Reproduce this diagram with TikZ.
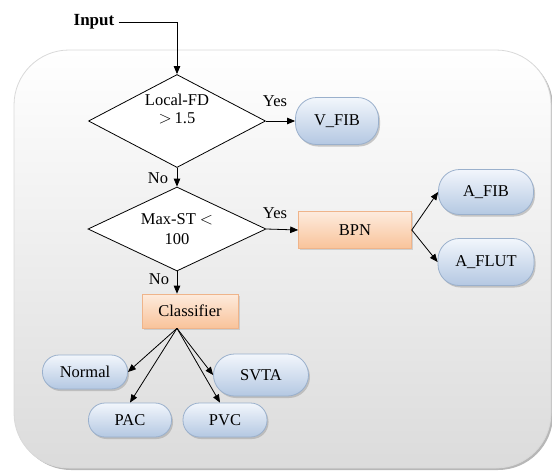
\documentclass[tikz,border=0pt]{standalone}
\usepackage{fontspec}
\setmainfont{Liberation Serif}
\usetikzlibrary{shapes.geometric,shapes.misc,arrows.meta,shadows}
\definecolor{bluetop}{HTML}{F2F6FC}
\definecolor{bluebot}{HTML}{B4C8E2}
\definecolor{blueline}{HTML}{9AB0CC}
\definecolor{orgtop}{HTML}{FDEBDD}
\definecolor{orgbot}{HTML}{F9C39A}
\definecolor{orgline}{HTML}{EFB48A}
\begin{document}
\begin{tikzpicture}[x=1pt,y=-1pt,
  every node/.style={font=\fontsize{16.5}{20}\selectfont},
  decision/.style={diamond, draw=black, line width=0.8pt, fill=white, shape aspect=2, inner sep=0pt, align=center},
  outbox/.style={rectangle, rounded corners=16.5pt, draw=blueline, line width=0.8pt, top color=bluetop, bottom color=bluebot,
    drop shadow={shadow xshift=1.5pt, shadow yshift=-2pt, fill=gray!70, opacity=0.6}},
  bigout/.style={outbox, rounded corners=21pt},
  procbox/.style={rectangle, draw=orgline, line width=0.6pt, top color=orgtop, bottom color=orgbot,
    drop shadow={shadow xshift=1.5pt, shadow yshift=-1.5pt, fill=gray!60, opacity=0.5}},
  conn/.style={line width=0.8pt, -{Triangle[length=8pt,width=6.5pt]}},
  lbl/.style={inner sep=0pt}
]
\useasboundingbox (0,0) rectangle (552,472);
% background panel
\path[draw=gray!30, line width=0.8pt, top color=white, bottom color=gray!28, rounded corners=55pt,
  drop shadow={shadow xshift=2pt, shadow yshift=-2pt, fill=gray!80, opacity=0.7}]
  (14,50) rectangle (551,468);

\node[font=\fontsize{17}{20}\selectfont\bfseries, inner sep=4pt] (input) at (94,22) {Input};
\coordinate (c1) at (177,22);

\node[decision, minimum width=177pt, minimum height=93pt] (d1) at (177,121) {Local-FD\\[-2pt]$>$\,1.5\\[4pt]};
\node[bigout, minimum width=83pt, minimum height=47pt] (vfib) at (337,121) {V\_FIB};
\node[decision, minimum width=178pt, minimum height=84pt] (d2) at (177,229) {Max-ST $<$\\100};
\node[procbox, minimum width=113pt, minimum height=37pt] (bpn) at (355,230) {BPN};
\node[bigout, minimum width=95pt, minimum height=45pt] (afib) at (486,192) {A\_FIB};
\node[bigout, minimum width=96pt, minimum height=47pt] (aflut) at (486,262) {A\_FLUT};
\node[procbox, minimum width=96pt, minimum height=34pt] (cls) at (190,311) {Classifier};
\node[outbox, minimum width=85pt, minimum height=34pt] (normal) at (85,372) {Normal};
\node[outbox, minimum width=83pt, minimum height=34pt] (pac) at (130,420) {PAC};
\node[outbox, minimum width=84pt, minimum height=34pt] (pvc) at (225,420) {PVC};
\node[bigout, minimum width=95pt, minimum height=42pt] (svta) at (261,375) {SVTA};

\coordinate (cb) at (d2.south |- cls.south);

\draw[conn] (input.east) -- (c1) -- (d1.north);
\draw[conn] (d1.east) -- (vfib.west);
\draw[conn] (d1.south) -- (d2.north);
\draw[conn] (d2.east) -- (bpn.west);
\draw[conn] (d2.south) -- (d2.south |- cls.north);
\draw[conn] (bpn.east) -- (afib.west);
\draw[conn] (bpn.east) -- (aflut.west);
\draw[conn] (cb) -- (normal.east);
\draw[conn] (cb) -- (pac.north);
\draw[conn] (cb) -- ([xshift=-5pt]pvc.north);
\draw[conn] (cb) -- (svta.west);

\node[lbl] (yes1) at (275,101) {Yes};
\node[lbl] (yes2) at (275,213) {Yes};
\node[lbl] (no1) at (158,178) {No};
\node[lbl] (no2) at (159,279) {No};
\end{tikzpicture}
\end{document}
